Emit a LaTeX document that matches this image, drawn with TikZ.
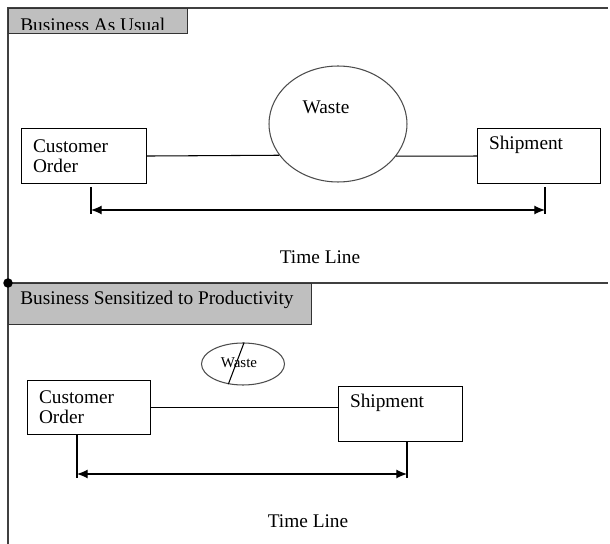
\documentclass[tikz,border=0pt]{standalone}
\usepackage{fontspec}
\setmainfont{Liberation Serif}
\usetikzlibrary{shapes.geometric,arrows.meta}
\begin{document}
\begin{tikzpicture}[x=0.02cm,y=-0.02cm,
    frame/.style={draw=black!75, line width=0.9pt},
    header/.style={draw=black!80, fill=black!25, line width=0.7pt, anchor=north west, inner sep=0pt},
    stepbox/.style={draw, line width=0.6pt, anchor=north west, align=left, inner xsep=0.23cm, inner ysep=0pt,
        font=\fontsize{11}{11.5}\selectfont},
    wastebox/.style={draw=black!70, ellipse, line width=0.6pt, inner sep=0pt},
    txt/.style={font=\fontsize{11}{13}\selectfont, inner sep=0pt},
    timeline/.style={line width=0.6pt, {Latex[length=6pt,width=5pt]}-{Latex[length=6pt,width=5pt]}},
    tick/.style={line width=0.6pt}]
    \useasboundingbox (0,0) rectangle (610,544);
    \draw[frame] (8,544) -- (8,8) -- (608,8);
    \draw[frame] (8,283) -- (608,283);
    \node[header, minimum width=3.58cm, minimum height=0.5cm] (hdr1) at (8,8) {};
    \begin{scope}
        \clip (8,8) rectangle (187,29.5);
        \node[txt, anchor=base west] (hdrtxt1) at (20,31.5) {Business As Usual};
    \end{scope}
    \node[header, minimum width=6.06cm, minimum height=0.82cm] (hdr2) at (8,283) {};
    \node[txt, anchor=west] (hdrtxt2) at (20,300) {Business Sensitized to Productivity};
    \node[circle, fill, inner sep=0pt, minimum size=0.19cm] (dot) at (8,283) {};

    \node[stepbox, text width=2.04cm, minimum height=1.1cm] (cust1) at (21,128) {Customer\\Order};
    \node[stepbox, text width=2.0cm, minimum height=1.1cm] (ship1) at (477,128) {Shipment\\\strut};
    \node[wastebox, minimum width=2.76cm, minimum height=2.32cm] (waste1) at (338,124) {};
    \node[txt] (wastetxt1) at (326,107) {Waste};
    \draw[line width=0.6pt] (cust1.east) -- (waste1.208.5);
    \draw[line width=0.6pt] (waste1.331.5) -- (ship1.west);
    \coordinate (tl1) at (91,187);
    \coordinate (tl2) at (91,214);
    \coordinate (tr1) at (545,187);
    \coordinate (tr2) at (545,214);
    \coordinate (al1) at (91,210);
    \coordinate (ar1) at (545,210);
    \draw[tick] (tl1) -- (tl2);
    \draw[tick] (tr1) -- (tr2);
    \draw[timeline] (al1) -- (ar1);
    \node[txt] (time1) at (320,257) {Time Line};

    \node[stepbox, text width=2.0cm, minimum height=1.08cm] (cust2) at (27,380) {Customer\\Order};
    \node[stepbox, text width=2.02cm, minimum height=1.1cm] (ship2) at (338,386) {Shipment\\\strut};
    \node[wastebox, minimum width=1.66cm, minimum height=0.84cm] (waste2) at (243,364) {};
    \node[txt, font=\fontsize{8.5}{10}\selectfont] (wastetxt2) at (239,363) {Waste};
    \draw[line width=0.6pt] (waste2.87) -- (waste2.234);
    \draw[line width=0.6pt] (cust2.east) -- (ship2.west |- cust2.east);
    \coordinate (bl) at (77,478);
    \coordinate (br) at (407,478);
    \coordinate (al2) at (77,474);
    \coordinate (ar2) at (407,474);
    \draw[tick] (bl |- cust2.south) -- (bl);
    \draw[tick] (br |- ship2.south) -- (br);
    \draw[timeline] (al2) -- (ar2);
    \node[txt] (time2) at (308,521) {Time Line};
\end{tikzpicture}
\end{document}
